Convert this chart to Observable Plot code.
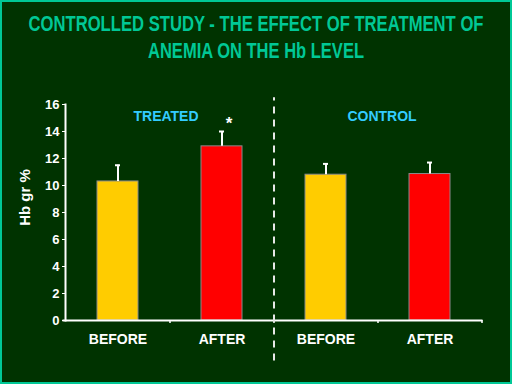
<!DOCTYPE html>
<html><head><meta charset="utf-8">
<script src="https://cdn.jsdelivr.net/npm/d3@7"></script>
<script src="https://cdn.jsdelivr.net/npm/@observablehq/plot@0.6"></script>
<style>
html,body{margin:0;padding:0;background:#003300;}
#wrap{position:relative;width:512px;height:384px;background:#003300;overflow:hidden;}
#title{position:absolute;left:0;top:0;width:512px;height:80px;color:#00c896;font-family:"Liberation Sans",Arial,sans-serif;font-weight:bold;font-size:22px;line-height:27px;padding-top:9.5px;box-sizing:border-box;}
#title div{position:relative;white-space:nowrap;height:27px;}
#title span{position:absolute;left:50%;top:0;white-space:nowrap;transform-origin:center center;}
#chart{position:absolute;left:0;top:80px;}
#border{position:absolute;left:0;top:0;right:0;bottom:0;border:2px solid #00c896;pointer-events:none;}
</style></head><body>
<div id="wrap">
<div id="title"></div>
<div id="chart"></div>
<div id="border"></div>
</div>
<script>
// data
const titleLines = ["CONTROLLED STUDY - THE EFFECT OF TREATMENT OF", "ANEMIA ON THE Hb LEVEL"];
const groups = ["TREATED", "TREATED", "CONTROL", "CONTROL"];
const phases = ["BEFORE", "AFTER", "BEFORE", "AFTER"];
const means = [10.3, 12.9, 10.8, 10.85];
const errTops = [11.5, 14.0, 11.6, 11.7];
const signif = ["", "*", "", ""];
const phaseColors = {BEFORE: "#ffcc00", AFTER: "#ff0000"};
const groupNames = ["TREATED", "CONTROL"];
const yTicks = [0, 2, 4, 6, 8, 10, 12, 14, 16];
const yLabel = "Hb gr %";
const dividerSpan = [-3, 16.5];

// title (condensed to the reference's line widths)
const titleWidths = [455, 216];
const titleEl = document.getElementById("title");
titleLines.forEach((t, i) => {
  const line = document.createElement("div");
  const span = document.createElement("span");
  span.textContent = t;
  line.appendChild(span);
  titleEl.appendChild(line);
  const w = span.getBoundingClientRect().width;
  span.style.transform = `translateX(-50%) scaleX(${titleWidths[i] / w})`;
});

const rows = groups.map((g, i) => ({
  key: g + " " + phases[i], group: g, phase: phases[i],
  mean: means[i], err: errTops[i], sig: signif[i]
}));
const keys = rows.map(d => d.key);

const W = 512, H = 304, ML = 65, MR = 31, MT = 24, MB = 64;
const step = (W - ML - MR) / keys.length;
const font = "'Liberation Sans', Arial, sans-serif";

const plot = Plot.plot({
  width: W, height: H,
  marginLeft: ML, marginRight: MR, marginTop: MT, marginBottom: MB,
  style: {background: "transparent", color: "white", fontFamily: font, fontWeight: "bold", overflow: "visible"},
  x: {domain: keys, paddingInner: 0.606, paddingOuter: 0.303, axis: null},
  y: {domain: [0, 16], axis: null},
  marks: [
    Plot.barY(rows, {x: "key", y: "mean", fill: d => phaseColors[d.phase], stroke: "#8a8a8a", strokeWidth: 1}),
    Plot.ruleX(rows, {x: "key", y1: "mean", y2: "err", stroke: "white", strokeWidth: 2}),
    Plot.tickY(rows, {x: "key", y: "err", stroke: "white", strokeWidth: 2, insetLeft: 18, insetRight: 18}),
    Plot.text(rows.filter(d => d.sig), {x: "key", y: "err", text: "sig", fill: "white", fontSize: 17, fontWeight: "bold", dx: 7, dy: -8}),
    Plot.frame({anchor: "left", stroke: "white", strokeWidth: 2}),
    Plot.frame({anchor: "bottom", stroke: "white", strokeWidth: 2, insetLeft: -2}),
    Plot.axisY({ticks: yTicks, tickSize: 3, tickPadding: 3, stroke: "white", fill: "white", fontSize: 13, fontWeight: "bold", label: null}),
    Plot.axisX({tickSize: 0, tickPadding: 14, tickFormat: k => rows.find(d => d.key === k).phase, fill: "white", fontSize: 14, fontWeight: "bold", label: null}),
    Plot.ruleX(keys, {x: d => d, y1: 0, y2: -0.22, dx: step / 2, stroke: "white", strokeWidth: 1.5}),
    Plot.ruleX([keys[2]], {x: d => d, y1: dividerSpan[0], y2: dividerSpan[1], dx: -step / 2, stroke: "#e8e8e8", strokeWidth: 2, strokeDasharray: "7,6"}),
    Plot.text([groupNames[0]], {x: () => keys[1], frameAnchor: "top", dx: -step / 2 - 4, dy: 7, text: d => d, fill: "#33ccff", fontSize: 14, fontWeight: "bold"}),
    Plot.text([groupNames[1]], {x: () => keys[3], frameAnchor: "top", dx: -step / 2 + 4, dy: 7, text: d => d, fill: "#33ccff", fontSize: 14, fontWeight: "bold"}),
    Plot.text([yLabel], {frameAnchor: "left", textAnchor: "middle", rotate: -90, dx: -40, dy: -15, text: d => d, fill: "white", fontSize: 15, fontWeight: "bold"})
  ]
});
document.getElementById("chart").appendChild(plot);
</script>
</body></html>
